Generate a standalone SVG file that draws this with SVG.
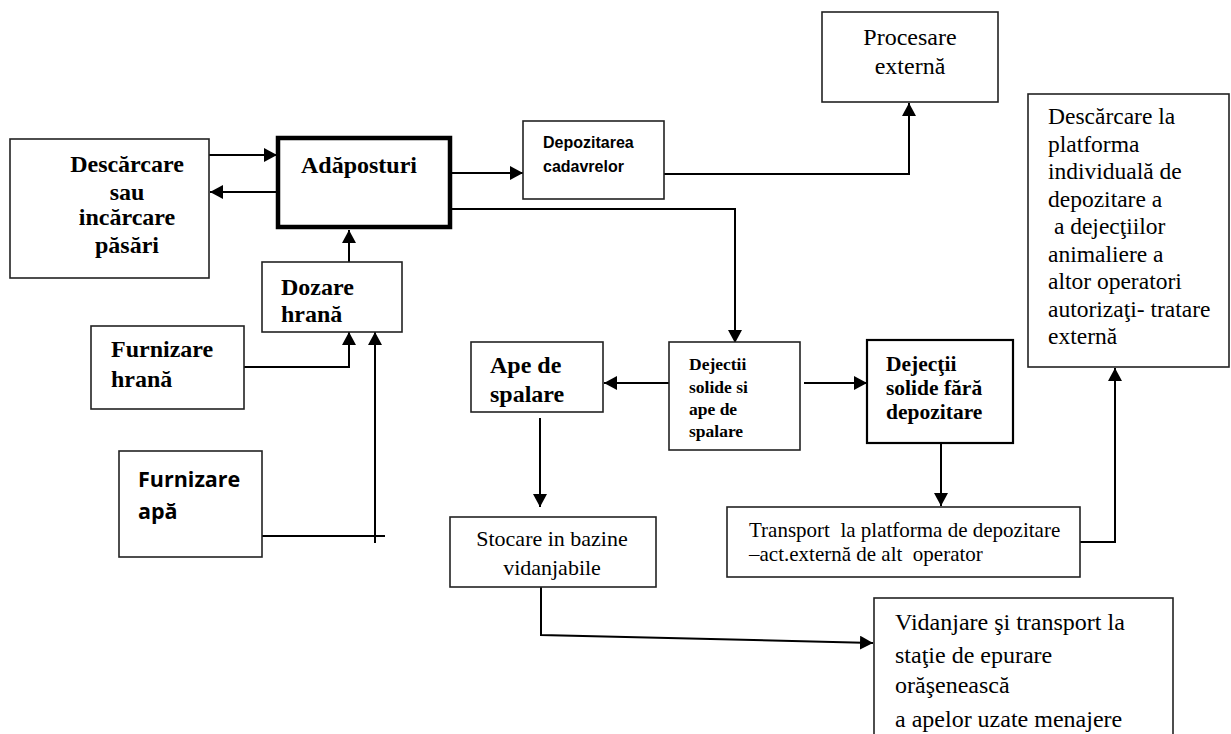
<svg xmlns="http://www.w3.org/2000/svg" width="1231" height="734" viewBox="0 0 1231 734">
<style>
.box{fill:#fff;stroke:#222;stroke-width:1.6}
.thick{fill:#fff;stroke:#000;stroke-width:4.5}
.c{fill:none;stroke:#000;stroke-width:2}
.sb{font-family:'Liberation Serif','Times New Roman',Times,Tinos,'DejaVu Serif',serif;font-weight:bold;fill:#000}
.sr{font-family:'Liberation Serif','Times New Roman',Times,Tinos,'DejaVu Serif',serif;fill:#000}
.ab{font-family:'Liberation Sans',Arial,sans-serif;font-weight:bold;fill:#000}
.ob{font-family:'Open Sans',sans-serif;font-weight:700;fill:#000}
</style>
<defs>
<marker id="ah" markerUnits="userSpaceOnUse" markerWidth="14" markerHeight="14" refX="13" refY="7" orient="auto">
<path d="M0,0 L13,7 L0,14 z" fill="#000"/>
</marker>
</defs>
<rect width="1231" height="734" fill="#fff"/>
<g id="connectors">
<line class="c" x1="209" y1="155" x2="277" y2="155" marker-end="url(#ah)"/>
<line class="c" x1="277" y1="192" x2="210" y2="192" marker-end="url(#ah)"/>
<line class="c" x1="436" y1="173" x2="523" y2="173" marker-end="url(#ah)"/>
<polyline class="c" points="436,209 735,209 735,343" marker-end="url(#ah)"/>
<polyline class="c" points="664,174 909,174 909,103" marker-end="url(#ah)"/>
<line class="c" x1="349" y1="262" x2="349" y2="230" marker-end="url(#ah)"/>
<polyline class="c" points="244,367 349,367 349,332" marker-end="url(#ah)"/>
<line class="c" x1="262" y1="536" x2="385" y2="536"/>
<line class="c" x1="375" y1="543" x2="375" y2="332" marker-end="url(#ah)"/>
<line class="c" x1="669" y1="383" x2="604" y2="383" marker-end="url(#ah)"/>
<line class="c" x1="804" y1="383" x2="867" y2="383" marker-end="url(#ah)"/>
<line class="c" x1="540" y1="418" x2="540" y2="507" marker-end="url(#ah)"/>
<line class="c" x1="941" y1="443" x2="941" y2="506" marker-end="url(#ah)"/>
<polyline class="c" points="1080,542 1115,542 1115,368" marker-end="url(#ah)"/>
<polyline class="c" points="541,587 541,635 873,643" marker-end="url(#ah)"/>
</g>
<g id="descarcare">
<rect class="box" x="10" y="139" width="199" height="139"/>
<text class="sb" font-size="24" text-anchor="middle"><tspan x="127" y="172">Descărcare</tspan><tspan x="127" y="200">sau</tspan><tspan x="127" y="225">incărcare</tspan><tspan x="127" y="253">păsări</tspan></text>
</g>
<g id="adaposturi">
<rect class="thick" x="278" y="138" width="172" height="89"/>
<text class="sb" font-size="24" x="301" y="173">Adăposturi</text>
</g>
<g id="depozitarea">
<rect class="box" x="523" y="121" width="141" height="78"/>
<text class="ab" font-size="16"><tspan x="543" y="148">Depozitarea</tspan><tspan x="543" y="172">cadavrelor</tspan></text>
</g>
<g id="procesare">
<rect class="box" x="822" y="12" width="176" height="90"/>
<text class="sr" font-size="24" text-anchor="middle"><tspan x="910" y="45">Procesare</tspan><tspan x="910" y="74">externă</tspan></text>
</g>
<g id="platforma">
<rect class="box" x="1028" y="94" width="201" height="273"/>
<text class="sr" font-size="23.5"><tspan x="1048" y="124">Descărcare la</tspan><tspan x="1048" y="151.5">platforma</tspan><tspan x="1048" y="179">individuală de</tspan><tspan x="1048" y="206.5">depozitare a</tspan><tspan x="1048" y="234"> a dejecţiilor</tspan><tspan x="1048" y="261.5">animaliere a</tspan><tspan x="1048" y="289">altor operatori</tspan><tspan x="1048" y="316.5">autorizaţi- tratare</tspan><tspan x="1048" y="344">externă</tspan></text>
</g>
<g id="dozare">
<rect class="box" x="262" y="262" width="140" height="70"/>
<text class="sb" font-size="24"><tspan x="281" y="295">Dozare</tspan><tspan x="281" y="322">hrană</tspan></text>
</g>
<g id="furnizare-hrana">
<rect class="box" x="91" y="326" width="153" height="83"/>
<text class="sb" font-size="24"><tspan x="111" y="357">Furnizare</tspan><tspan x="111" y="387">hrană</tspan></text>
</g>
<g id="furnizare-apa">
<rect class="box" x="119" y="451" width="143" height="106"/>
<text class="ob" font-size="21.5"><tspan x="138" y="487">Furnizare</tspan><tspan x="138" y="519">apă</tspan></text>
</g>
<g id="ape-spalare">
<rect class="box" x="471" y="342" width="132" height="70"/>
<text class="sb" font-size="24"><tspan x="490" y="373">Ape de</tspan><tspan x="490" y="402">spalare</tspan></text>
</g>
<g id="dejectii-solide-ape">
<rect class="box" x="669" y="342" width="131" height="108"/>
<text class="sb" font-size="17.5"><tspan x="689" y="370">Dejectii</tspan><tspan x="689" y="393">solide si</tspan><tspan x="689" y="415">ape de</tspan><tspan x="689" y="437">spalare</tspan></text>
</g>
<g id="dejectii-fara">
<rect class="box" x="867" y="340" width="146" height="103" style="stroke-width:2.2;stroke:#000"/>
<text class="sb" font-size="21.5"><tspan x="886" y="371">Dejecţii</tspan><tspan x="886" y="395">solide fără</tspan><tspan x="886" y="419">depozitare</tspan></text>
</g>
<g id="stocare">
<rect class="box" x="450" y="517" width="206" height="70"/>
<text class="sr" font-size="22" text-anchor="middle"><tspan x="552" y="546">Stocare in bazine</tspan><tspan x="552" y="575">vidanjabile</tspan></text>
</g>
<g id="transport">
<rect class="box" x="727" y="507" width="353" height="70"/>
<text class="sr" font-size="21" xml:space="preserve"><tspan x="749" y="537">Transport  la platforma de depozitare</tspan><tspan x="749" y="561">–act.externă de alt  operator</tspan></text>
</g>
<g id="vidanjare">
<rect class="box" x="874" y="598" width="299" height="145"/>
<text class="sr" font-size="24"><tspan x="895" y="630">Vidanjare şi transport la</tspan><tspan x="895" y="663">staţie de epurare</tspan><tspan x="895" y="693">orăşenească</tspan><tspan x="895" y="727">a apelor uzate menajere</tspan></text>
</g>
</svg>
